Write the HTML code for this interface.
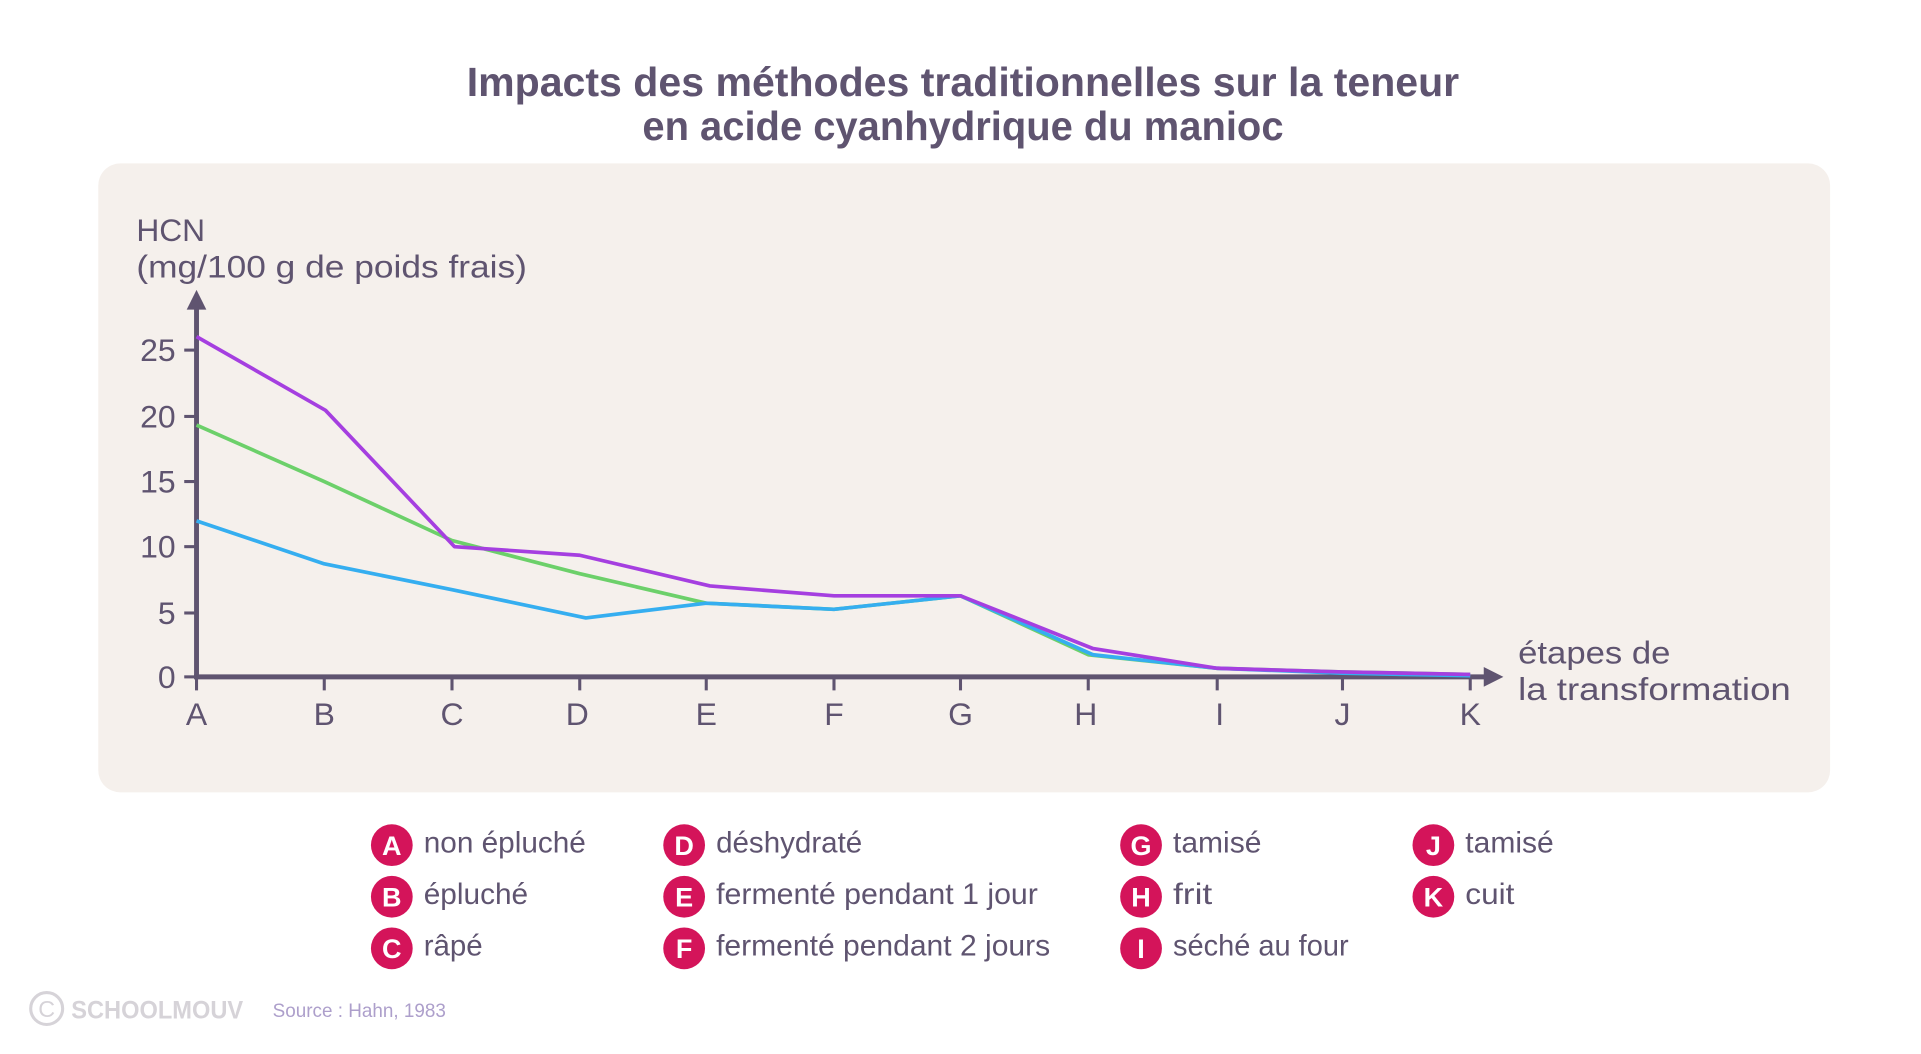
<!DOCTYPE html>
<html><head><meta charset="utf-8"><style>
html,body{margin:0;padding:0;background:#fff;}
svg{display:block;}
text{font-family:"Liberation Sans Narrow","Liberation Sans",sans-serif;fill:#5f5470;}
</style></head><body>
<svg width="1921" height="1054" viewBox="0 0 1564 858" preserveAspectRatio="none" xmlns="http://www.w3.org/2000/svg">
<rect width="1564" height="858" fill="#fff"/>
<text x="784" y="78" font-size="33" font-weight="bold" text-anchor="middle" textLength="808" lengthAdjust="spacingAndGlyphs">Impacts des méthodes traditionnelles sur la teneur</text>
<text x="784" y="114" font-size="33" font-weight="bold" text-anchor="middle" textLength="522" lengthAdjust="spacingAndGlyphs">en acide cyanhydrique du manioc</text>
<rect x="80" y="133" width="1410" height="512" rx="18" fill="#f5f0ec"/>
<text x="111" y="196" font-size="26" textLength="56" lengthAdjust="spacingAndGlyphs">HCN</text>
<text x="111" y="226" font-size="26" textLength="318" lengthAdjust="spacingAndGlyphs">(mg/100 g de poids frais)</text>
<g stroke="#5f5470" stroke-width="4" fill="none">
<line x1="160" y1="551" x2="160" y2="248"/>
<line x1="158" y1="551" x2="1212" y2="551"/>
<g stroke-width="2.5">
<line x1="150" y1="285" x2="160" y2="285"/><line x1="150" y1="339" x2="160" y2="339"/>
<line x1="150" y1="392" x2="160" y2="392"/><line x1="150" y1="445" x2="160" y2="445"/>
<line x1="150" y1="499" x2="160" y2="499"/><line x1="150" y1="551" x2="160" y2="551"/>
<line x1="160" y1="551" x2="160" y2="562"/><line x1="264" y1="551" x2="264" y2="562"/>
<line x1="368" y1="551" x2="368" y2="562"/><line x1="472" y1="551" x2="472" y2="562"/>
<line x1="575" y1="551" x2="575" y2="562"/><line x1="679" y1="551" x2="679" y2="562"/>
<line x1="782" y1="551" x2="782" y2="562"/><line x1="886" y1="551" x2="886" y2="562"/>
<line x1="991" y1="551" x2="991" y2="562"/><line x1="1093" y1="551" x2="1093" y2="562"/>
<line x1="1197" y1="551" x2="1197" y2="562"/>
</g></g>
<polygon points="160,236 152,252 168,252" fill="#5f5470"/>
<polygon points="1224,551 1208,543 1208,559" fill="#5f5470"/>
<g font-size="26" text-anchor="end">
<text x="143" y="294">25</text><text x="143" y="348">20</text><text x="143" y="401">15</text>
<text x="143" y="454">10</text><text x="143" y="508">5</text><text x="143" y="560">0</text>
</g>
<g font-size="26" text-anchor="middle">
<text x="160" y="590">A</text><text x="264" y="590">B</text><text x="368" y="590">C</text>
<text x="470" y="590">D</text><text x="575" y="590">E</text><text x="679" y="590">F</text>
<text x="782" y="590">G</text><text x="884" y="590">H</text><text x="993" y="590">I</text>
<text x="1093" y="590">J</text><text x="1197" y="590">K</text>
</g>
<text x="1236" y="540" font-size="26" textLength="124" lengthAdjust="spacingAndGlyphs">étapes de</text>
<text x="1236" y="570" font-size="26" textLength="222" lengthAdjust="spacingAndGlyphs">la transformation</text>
<g fill="none" stroke-width="3" stroke-linejoin="round">
<polyline stroke="#6cd06a" points="160,346 264,392 368,440 472,467 575,491 679,496 782,485 886,533 991,544 1093,547 1197,549"/>
<polyline stroke="#35aef0" points="160,424 264,459 368,480 477,503 575,491 679,496 782,485 890,533 991,544 1093,548 1197,550"/>
<polyline stroke="#a53fe0" points="160,274 265,334 370,445 472,452 578,477 679,485 782,485 890,528 991,544 1093,547 1197,549"/>
</g>
<g font-size="24">
<g fill="#d4145a"><circle cx="319" cy="688" r="17"/><circle cx="319" cy="730" r="17"/><circle cx="319" cy="772" r="17"/>
<circle cx="557" cy="688" r="17"/><circle cx="557" cy="730" r="17"/><circle cx="557" cy="772" r="17"/>
<circle cx="929" cy="688" r="17"/><circle cx="929" cy="730" r="17"/><circle cx="929" cy="772" r="17"/>
<circle cx="1167" cy="688" r="17"/><circle cx="1167" cy="730" r="17"/></g>
<g font-weight="bold" text-anchor="middle" font-size="22" style="fill:#fff">
<text x="319" y="696" style="fill:#fff">A</text><text x="319" y="738" style="fill:#fff">B</text><text x="319" y="780" style="fill:#fff">C</text>
<text x="557" y="696" style="fill:#fff">D</text><text x="557" y="738" style="fill:#fff">E</text><text x="557" y="780" style="fill:#fff">F</text>
<text x="929" y="696" style="fill:#fff">G</text><text x="929" y="738" style="fill:#fff">H</text><text x="929" y="780" style="fill:#fff">I</text>
<text x="1167" y="696" style="fill:#fff">J</text><text x="1167" y="738" style="fill:#fff">K</text>
</g>
<text x="345" y="694" textLength="132" lengthAdjust="spacingAndGlyphs">non épluché</text>
<text x="345" y="736" textLength="85" lengthAdjust="spacingAndGlyphs">épluché</text>
<text x="345" y="778" textLength="48" lengthAdjust="spacingAndGlyphs">râpé</text>
<text x="583" y="694" textLength="119" lengthAdjust="spacingAndGlyphs">déshydraté</text>
<text x="583" y="736" textLength="262" lengthAdjust="spacingAndGlyphs">fermenté pendant 1 jour</text>
<text x="583" y="778" textLength="272" lengthAdjust="spacingAndGlyphs">fermenté pendant 2 jours</text>
<text x="955" y="694" textLength="72" lengthAdjust="spacingAndGlyphs">tamisé</text>
<text x="955" y="736" textLength="32" lengthAdjust="spacingAndGlyphs">frit</text>
<text x="955" y="778" textLength="143" lengthAdjust="spacingAndGlyphs">séché au four</text>
<text x="1193" y="694" textLength="72" lengthAdjust="spacingAndGlyphs">tamisé</text>
<text x="1193" y="736" textLength="40" lengthAdjust="spacingAndGlyphs">cuit</text>
</g>
<circle cx="38" cy="821" r="13" fill="none" stroke="#d6d3d8" stroke-width="2.5"/>
<text x="38" y="828" font-size="19" text-anchor="middle" style="fill:#d6d3d8">C</text>
<text x="58" y="829" font-size="20" font-weight="bold" style="fill:#d6d3d8" textLength="140" lengthAdjust="spacingAndGlyphs">SCHOOLMOUV</text>
<text x="222" y="828" font-size="16" style="fill:#ad9fcb" textLength="141" lengthAdjust="spacingAndGlyphs">Source : Hahn, 1983</text>
</svg>
</body></html>
